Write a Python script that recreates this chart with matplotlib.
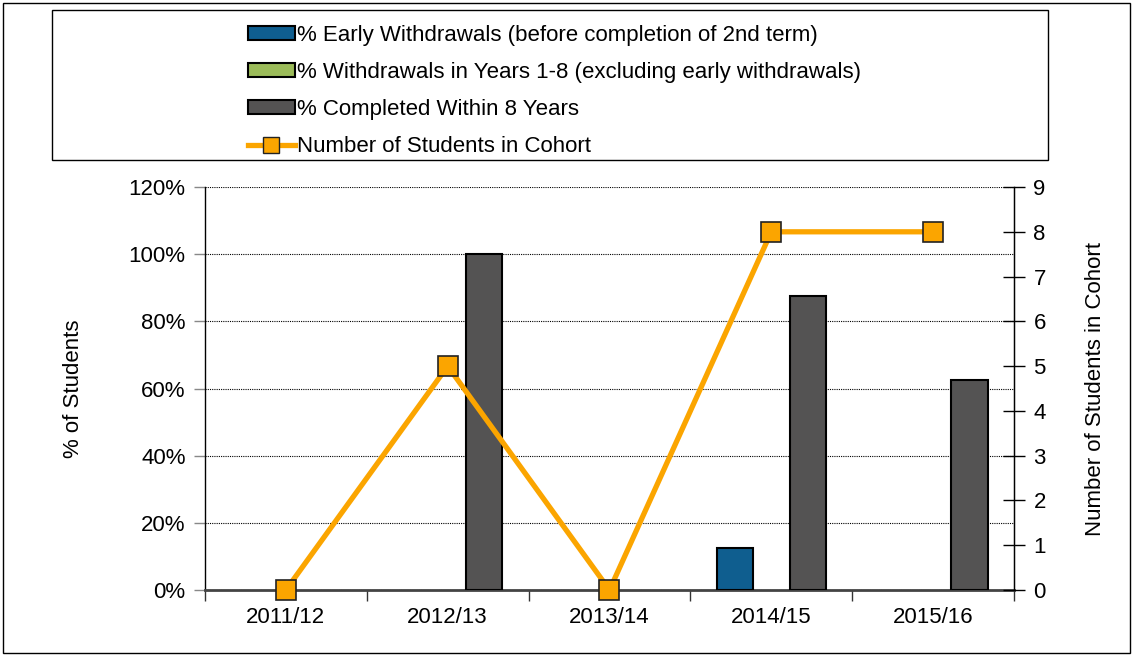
import numpy as np
import matplotlib.pyplot as plt
from matplotlib.patches import Rectangle
from matplotlib.lines import Line2D
from matplotlib.ticker import FixedLocator, PercentFormatter

plt.rcParams['font.family'] = ['Liberation Sans', 'DejaVu Sans']

years = ['2011/12', '2012/13', '2013/14', '2014/15', '2015/16']
early_wd = [0, 0, 0, 12.5, 0]
wd_1_8 = [0, 0, 0, 0, 0]
completed = [0, 100, 0, 87.5, 62.5]
cohort = [0, 5, 0, 8, 8]

c_blue = '#0F5E8F'
c_green = '#9BBB59'
c_grey = '#545353'
c_orange = '#FBA500'

fig = plt.figure(figsize=(11.33, 6.56), dpi=100)
ax = fig.add_axes([0.1809, 0.1006, 0.7141, 0.6143])
ax2 = ax.twinx()

x = np.arange(len(years))
w = 0.225


def edges(vals):
    # no outline for empty bars
    return ['black' if v > 0 else 'none' for v in vals]


ax.bar(x - w, early_wd, w, color=c_blue, edgecolor=edges(early_wd), linewidth=1.5, zorder=3)
ax.bar(x, wd_1_8, w, color=c_green, edgecolor=edges(wd_1_8), linewidth=1.5, zorder=3)
ax.bar(x + w, completed, w, color=c_grey, edgecolor=edges(completed), linewidth=1.5, zorder=3)

ax.set_xlim(-0.5, len(years) - 0.5)
ax.set_ylim(0, 120)
ax.set_yticks(np.arange(0, 121, 20))
ax.yaxis.set_major_formatter(PercentFormatter(decimals=0))
ax.grid(axis='y', linestyle=(0, (1, 1)), color='black', linewidth=0.8, zorder=0)
ax.set_xticks(x)
ax.set_xticklabels(years)
ax.xaxis.set_minor_locator(FixedLocator(np.arange(-0.5, len(years), 1.0)))
ax.tick_params(axis='x', which='major', length=0, pad=12, labelsize=16)
ax.tick_params(axis='x', which='minor', length=8, color='#333333', width=1)
ax.tick_params(axis='y', length=8, color='#888888', width=1, labelsize=16, pad=6)
ax.set_ylabel('% of Students', fontsize=16, labelpad=32)

ax2.plot(x, cohort, color=c_orange, linewidth=3.8, marker='s', markersize=15,
         markerfacecolor=c_orange, markeredgecolor='#222222', markeredgewidth=1.2,
         zorder=5, clip_on=False)
ax2.set_ylim(0, 9)
ax2.set_yticks(range(10))
ax2.tick_params(axis='y', direction='inout', length=16, width=1, labelsize=16, pad=6)
ax2.set_ylabel('Number of Students in Cohort', fontsize=16, labelpad=28)

ax.spines['top'].set_visible(False)
ax2.spines['top'].set_visible(False)
ax.spines['bottom'].set_color('#444444')
ax.spines['bottom'].set_linewidth(2)
ax2.spines['bottom'].set_visible(False)
ax.spines['left'].set_linewidth(1)
ax2.spines['right'].set_linewidth(1)
ax2.spines['left'].set_visible(False)
ax.set_zorder(1)
ax2.set_zorder(2)
ax2.patch.set_visible(False)

# legend frame and outer border
fig.patches.append(Rectangle((52 / 1133, 1 - 160 / 656), 996 / 1133, 150 / 656,
                             transform=fig.transFigure, fill=False, edgecolor='black', linewidth=1))
fig.patches.append(Rectangle((3 / 1133, 3 / 656), 1127 / 1133, 650 / 656,
                             transform=fig.transFigure, fill=False, edgecolor='black', linewidth=1))
handles = [
    Rectangle((0, 0), 1, 1, facecolor=c_blue, edgecolor='black', linewidth=1.5),
    Rectangle((0, 0), 1, 1, facecolor=c_green, edgecolor='black', linewidth=1.5),
    Rectangle((0, 0), 1, 1, facecolor=c_grey, edgecolor='black', linewidth=1.5),
    Line2D([], [], color=c_orange, linewidth=3.8, marker='s', markersize=11,
           markerfacecolor=c_orange, markeredgecolor='#222222'),
]
labels = ['% Early Withdrawals (before completion of 2nd term)',
          '% Withdrawals in Years 1-8 (excluding early withdrawals)',
          '% Completed Within 8 Years',
          'Number of Students in Cohort']
fig.legend(handles, labels, loc='upper left', bbox_to_anchor=(237 / 1133, 1 - 14 / 656),
           frameon=False, fontsize=16, handlelength=2.1, handleheight=0.6,
           handletextpad=0.1, labelspacing=0.72, borderpad=0)

fig.savefig('out.png', dpi=100)
